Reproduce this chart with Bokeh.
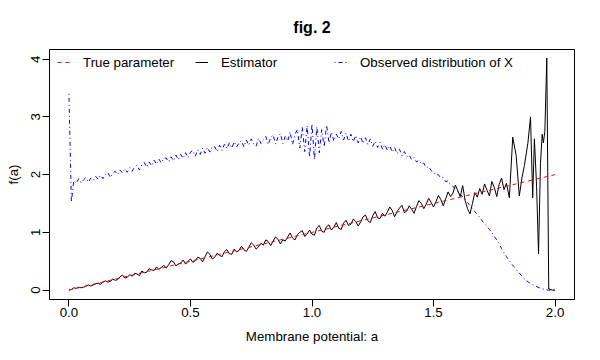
import numpy as np
from bokeh.plotting import figure
from bokeh.models import Range1d, Legend, LegendItem, FixedTicker, NumeralTickFormatter
from bokeh.embed import file_html
from bokeh.resources import INLINE

# ---------------- data ----------------
# membrane potential grid (0.00 .. 2.00, step 0.01)
potential = np.linspace(0.0, 2.0, 201)

# true parameter f(a) = a (straight line end points)
true_a = [0.0, 2.0]
true_f = [0.0, 2.0]

# estimator on grid 0.00 .. 1.79
est_main = [
    0.00, 0.01, 0.04, 0.03, 0.05, 0.04, 0.05, 0.07, 0.09, 0.07,
    0.09, 0.11, 0.12, 0.10, 0.14, 0.16, 0.14, 0.15, 0.19, 0.17,
    0.18, 0.23, 0.26, 0.21, 0.22, 0.27, 0.24, 0.29, 0.28, 0.25,
    0.33, 0.30, 0.31, 0.37, 0.35, 0.34, 0.40, 0.36, 0.39, 0.43,
    0.38, 0.44, 0.51, 0.49, 0.42, 0.45, 0.47, 0.52, 0.45, 0.50,
    0.54, 0.48, 0.51, 0.57, 0.55, 0.49, 0.58, 0.66, 0.62, 0.54,
    0.57, 0.64, 0.60, 0.58, 0.67, 0.70, 0.63, 0.62, 0.71, 0.66,
    0.69, 0.76, 0.70, 0.67, 0.74, 0.82, 0.78, 0.71, 0.75, 0.81,
    0.78, 0.87, 0.84, 0.77, 0.85, 0.92, 0.88, 0.80, 0.87, 0.85,
    0.92, 0.99, 0.90, 0.87, 0.96, 1.00, 1.03, 0.93, 0.97, 1.04,
    0.97, 0.95, 1.08, 1.12, 1.02, 1.00, 1.10, 1.13, 1.04, 1.09,
    1.17, 1.07, 1.05, 1.16, 1.21, 1.12, 1.14, 1.23, 1.19, 1.11,
    1.18, 1.27, 1.30, 1.20, 1.17, 1.29, 1.36, 1.25, 1.24, 1.33,
    1.28, 1.35, 1.44, 1.38, 1.27, 1.36, 1.42, 1.47, 1.34, 1.37,
    1.46, 1.40, 1.33, 1.45, 1.55, 1.50, 1.41, 1.49, 1.59, 1.52,
    1.44, 1.53, 1.64, 1.57, 1.46, 1.58, 1.70, 1.62, 1.68, 1.82,
    1.72, 1.62, 1.81, 1.55, 1.41, 1.32, 1.50, 1.69, 1.61, 1.76,
    1.66, 1.84, 1.73, 1.63, 1.88, 1.78, 1.62, 1.83, 1.94, 1.74,
]
# estimator tail (irregular positions, 1.80 .. 2.00)
est_tail_a = [1.800, 1.812, 1.826, 1.840, 1.853, 1.864, 1.874, 1.888, 1.899,
              1.908, 1.915, 1.924, 1.932, 1.940, 1.947, 1.952, 1.958, 1.966,
              1.974, 1.980, 1.990, 2.000]
est_tail_f = [1.85, 1.60, 2.65, 2.33, 1.63, 1.95, 2.16, 2.54, 3.00,
              1.60, 2.62, 1.80, 0.63, 2.19, 2.70, 2.55, 2.75, 4.02,
              0.02, 0.01, 0.00, 0.00]

# observed distribution of X on grid 0.00 .. 2.00
observed = [
    3.40, 1.52, 1.90, 1.85, 1.93, 1.86, 1.91, 1.95, 1.87, 1.94,
    1.90, 1.97, 1.92, 1.99, 1.93, 2.00, 2.04, 1.95, 2.02, 2.06,
    2.00, 2.08, 2.03, 2.10, 2.04, 2.12, 2.06, 2.13, 2.16, 2.08,
    2.17, 2.21, 2.13, 2.22, 2.15, 2.25, 2.18, 2.27, 2.20, 2.28,
    2.29, 2.22, 2.31, 2.24, 2.34, 2.26, 2.35, 2.28, 2.38, 2.29,
    2.39, 2.42, 2.32, 2.43, 2.35, 2.46, 2.37, 2.47, 2.39, 2.49,
    2.48, 2.40, 2.51, 2.42, 2.53, 2.45, 2.55, 2.46, 2.57, 2.48,
    2.55, 2.59, 2.48, 2.60, 2.51, 2.62, 2.53, 2.49, 2.63, 2.54,
    2.60, 2.66, 2.52, 2.64, 2.69, 2.53, 2.65, 2.71, 2.54, 2.67,
    2.58, 2.74, 2.52, 2.70, 2.78, 2.46, 2.82, 2.40, 2.85, 2.30,
    2.88, 2.26, 2.83, 2.38, 2.78, 2.48, 2.86, 2.55, 2.74, 2.58,
    2.70, 2.62, 2.75, 2.60, 2.72, 2.58, 2.70, 2.57, 2.68, 2.55,
    2.66, 2.54, 2.64, 2.52, 2.62, 2.49, 2.58, 2.47, 2.56, 2.44,
    2.52, 2.42, 2.50, 2.39, 2.47, 2.36, 2.44, 2.33, 2.40, 2.31,
    2.34, 2.26, 2.30, 2.22, 2.25, 2.18, 2.20, 2.12, 2.14, 2.07,
    2.05, 1.99, 2.00, 1.94, 1.95, 1.88, 1.89, 1.82, 1.80, 1.74,
    1.70, 1.66, 1.62, 1.57, 1.52, 1.46, 1.41, 1.36, 1.31, 1.26,
    1.20, 1.15, 1.10, 1.05, 1.00, 0.93, 0.87, 0.80, 0.72, 0.65,
    0.58, 0.52, 0.46, 0.41, 0.36, 0.31, 0.26, 0.21, 0.17, 0.14,
    0.11, 0.09, 0.07, 0.05, 0.03, 0.02, 0.01, 0.00, 0.00, 0.00,
    0.00,
]

x_ticks = [0.0, 0.5, 1.0, 1.5, 2.0]
y_ticks = [0, 1, 2, 3, 4]

labels = ["True parameter", "Estimator", "Observed distribution of X"]

# ---------------- figure ----------------
FONT = "Liberation Sans"
TXT = "13.3px"

p = figure(width=600, height=360, output_backend="svg", toolbar_location=None,
           x_range=Range1d(-0.08, 2.08), y_range=Range1d(-0.163, 4.168),
           min_border_left=49, min_border_right=26, min_border_top=49,
           min_border_bottom=61, title="fig. 2")

p.title.align = "center"
p.title.text_font = FONT
p.title.text_font_size = "16px"
p.title.text_font_style = "bold"
p.title.text_color = "black"
p.title.standoff = 28

p.xgrid.visible = False
p.ygrid.visible = False
p.outline_line_color = "black"
p.outline_line_width = 1
p.background_fill_color = "white"
p.border_fill_color = "white"

for ax in (p.xaxis[0], p.yaxis[0]):
    ax.axis_line_color = None
    ax.major_tick_out = 7
    ax.major_tick_in = 0
    ax.minor_tick_line_color = None
    ax.major_tick_line_color = "black"
    ax.major_label_text_font = FONT
    ax.major_label_text_font_size = TXT
    ax.major_label_text_color = "black"
    ax.axis_label_text_font = FONT
    ax.axis_label_text_font_size = TXT
    ax.axis_label_text_font_style = "normal"
    ax.axis_label_text_color = "black"

p.xaxis.ticker = FixedTicker(ticks=x_ticks)
p.xaxis.formatter = NumeralTickFormatter(format="0.0")
p.xaxis.axis_label = "Membrane potential: a"
p.xaxis.major_label_standoff = 1
p.xaxis.axis_label_standoff = 9

p.yaxis.ticker = FixedTicker(ticks=y_ticks)
p.yaxis.axis_label = "f(a)"
p.yaxis.major_label_orientation = "vertical"
p.yaxis.major_label_standoff = 2
p.yaxis.axis_label_standoff = 8

r_obs = p.line(potential, observed, line_color="#0000FF", line_width=1,
               line_dash="1 3 4 3")
est_a = list(potential[:180]) + est_tail_a
est_f = est_main + est_tail_f
r_est = p.line(est_a, est_f, line_color="black", line_width=1)
r_true = p.line(true_a, true_f, line_color="#FF0000", line_width=1,
                line_dash="4 4")

renderers = [r_true, r_est, r_obs]
leg_x = [8, 146, 285]
for lab, rr, lx in zip(labels, renderers, leg_x):
    lg = Legend(items=[LegendItem(label=lab, renderers=[rr])],
                location=(lx, 227), orientation="horizontal",
                glyph_width=13, glyph_height=20, label_standoff=13,
                padding=0, margin=0, spacing=0,
                border_line_color=None, background_fill_alpha=0,
                label_text_font=FONT, label_text_font_size=TXT,
                label_text_color="black", label_height=20)
    p.add_layout(lg, "center")

open("out.html", "w").write(file_html(p, INLINE))
